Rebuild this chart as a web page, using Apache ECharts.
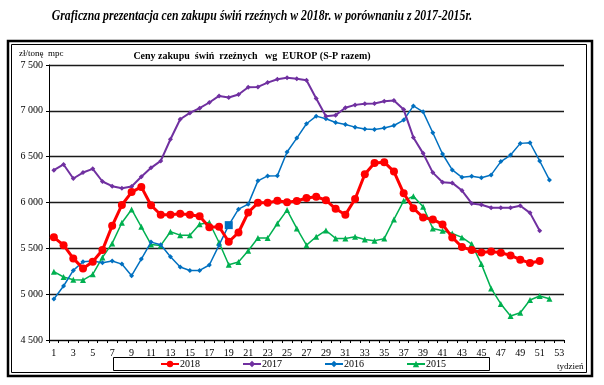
<!DOCTYPE html>
<html><head><meta charset="utf-8">
<script src="https://cdn.jsdelivr.net/npm/echarts@6/dist/echarts.min.js"></script>
<style>html,body{margin:0;padding:0;background:#fff}#c{width:604px;height:385px}</style>
</head><body><div id="c"></div>
<script>
const weeks = ['1','2','3','4','5','6','7','8','9','10','11','12','13','14','15','16','17','18','19','20','21','22','23','24','25','26','27','28','29','30','31','32','33','34','35','36','37','38','39','40','41','42','43','44','45','46','47','48','49','50','51','52','53'];
const yTicks = [4500, 5000, 5500, 6000, 6500, 7000, 7500];
const s2018 = [5620,5535,5390,5281,5354,5481,5746,5973,6114,6170,5970,5866,5866,5877,5867,5851,5731,5735,5572,5673,5891,5996,5998,6018,6002,6016,6049,6063,6025,5931,5866,6038,6308,6431,6440,6337,6100,5937,5837,5815,5761,5619,5514,5481,5455,5466,5452,5423,5376,5339,5361];
const s2017 = [6353,6415,6262,6327,6367,6229,6178,6156,6175,6280,6378,6454,6690,6908,6977,7029,7091,7163,7145,7178,7257,7261,7308,7344,7362,7351,7333,7134,6942,6953,7033,7065,7076,7080,7105,7112,7014,6710,6536,6326,6221,6214,6130,5990,5975,5942,5942,5942,5964,5887,5691];
const s2016 = [4947,5089,5259,5354,5361,5343,5361,5328,5201,5383,5568,5539,5408,5296,5259,5259,5318,5535,5753,5927,5982,6236,6290,6293,6551,6703,6859,6942,6913,6873,6851,6822,6801,6797,6812,6840,6899,7054,6989,6761,6529,6355,6275,6286,6271,6301,6446,6518,6645,6652,6453,6246];
const s2015 = [5245,5187,5158,5154,5216,5401,5554,5779,5924,5735,5543,5532,5681,5644,5644,5762,5782,5564,5321,5350,5474,5612,5612,5771,5917,5717,5535,5626,5695,5608,5608,5626,5597,5583,5606,5815,6018,6069,5953,5717,5691,5662,5619,5546,5328,5063,4893,4762,4798,4936,4980,4951];
const seriesNames = ['2018','2017','2016','2015'];

const serif = '"Liberation Serif", "DejaVu Serif", serif';
const chart = echarts.init(document.getElementById('c'), null, {renderer:'canvas'});
const fmt = v => { const s = String(v); return s.length > 3 ? s.slice(0, s.length-3) + ' ' + s.slice(-3) : s; };

chart.setOption({
  animation: false,
  backgroundColor: '#fff',
  graphic: [
    {type:'rect', shape:{x:8, y:41, width:584, height:335}, style:{fill:'none', stroke:'#000', lineWidth:2.5}, silent:true},
    {type:'rect', shape:{x:11.5, y:44.5, width:575, height:328}, style:{fill:'none', stroke:'#000', lineWidth:1}, silent:true},
    {type:'text', x:262, y:16, scaleX:0.84, originX:0, style:{text:'Graficzna prezentacja cen zakupu świń rzeźnych w 2018r. w porównaniu z 2017-2015r.', font:'italic bold 14px ' + serif, fill:'#000', textAlign:'center', textVerticalAlign:'middle'}},
    {type:'text', x:252, y:56, style:{text:'Ceny zakupu  świń  rzeźnych   wg  EUROP (S-P razem)', font:'bold 10px ' + serif, fill:'#000', textAlign:'center', textVerticalAlign:'middle'}},
    {type:'text', x:19, y:54, style:{text:'zł/tonę  mpc', font:'9px ' + serif, fill:'#000', textVerticalAlign:'middle'}},
    {type:'text', x:557, y:367, style:{text:'tydzień', font:'9px ' + serif, fill:'#000', textVerticalAlign:'middle'}},
    {type:'rect', shape:{x:113.5, y:357.5, width:376, height:13}, style:{fill:'none', stroke:'#000', lineWidth:1}, silent:true}
  ],
  legend: {
    data: seriesNames,
    left: 160, top: 359, padding: 0,
    itemWidth: 18, itemHeight: 8, itemGap: 42,
    textStyle: {fontFamily: serif, fontSize: 10, color:'#000', padding:[0,0,0,-4]}
  },
  grid: {left: 49, top: 65, width: 515, height: 275, containLabel: false},
  xAxis: {
    type: 'category', data: weeks, boundaryGap: true,
    axisLine: {lineStyle:{color:'#000', width:1}},
    axisTick: {show:true, interval:0, length:3, lineStyle:{color:'#000'}},
    axisLabel: {interval:1, margin:8, fontFamily: serif, fontSize:10, color:'#000'},
    splitLine: {show:false}
  },
  yAxis: {
    type: 'value', min: yTicks[0], max: yTicks[yTicks.length-1], interval: 500,
    axisLine: {show:true, lineStyle:{color:'#000', width:1}},
    axisTick: {show:true, length:3, lineStyle:{color:'#000'}},
    axisLabel: {formatter: fmt, margin:6, fontFamily: serif, fontSize:10, color:'#000'},
    splitLine: {show:true, lineStyle:{color:'#1a1a1a', width:1.4}}
  },
  series: [
    {name:'2015', type:'line', data:s2015, color:'#00B050', symbol:'triangle', symbolSize:6, showAllSymbol:true,
     lineStyle:{width:1.5, color:'#00B050'}, itemStyle:{color:'#00B050'}, z:2},
    {name:'2016', type:'line', color:'#0070C0', symbol:'diamond', symbolSize:5, showAllSymbol:true,
     data: s2016.map((v,i) => i === 18 ? {value:v, symbol:'rect', symbolSize:8} : v),
     lineStyle:{width:1.5, color:'#0070C0'}, itemStyle:{color:'#0070C0'}, z:3},
    {name:'2017', type:'line', data:s2017, color:'#7030A0', symbol:'diamond', symbolSize:5, showAllSymbol:true,
     lineStyle:{width:2, color:'#7030A0'}, itemStyle:{color:'#7030A0'}, z:4},
    {name:'2018', type:'line', data:s2018, color:'#FF0000', symbol:'circle', symbolSize:8, showAllSymbol:true,
     lineStyle:{width:3, color:'#FF0000'}, itemStyle:{color:'#FF0000'}, z:5}
  ]
});
</script></body></html>
